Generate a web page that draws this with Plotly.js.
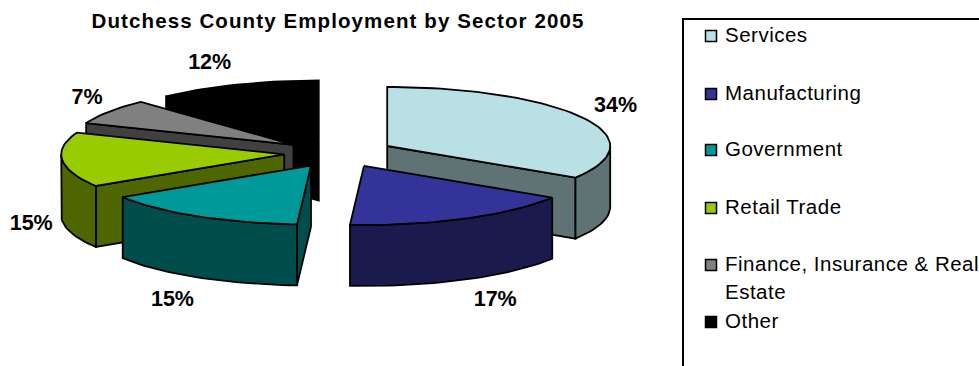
<!DOCTYPE html>
<html>
<head>
<meta charset="utf-8">
<script src="https://cdn.plot.ly/plotly-3.0.1.min.js"></script>
<style>
html,body{margin:0;padding:0;background:#fff;overflow:hidden}
.gtitle{letter-spacing:1.1px}
.scatterlayer .trace:last-child text{letter-spacing:0.5px}
</style>
</head>
<body>
<div id="chart" style="width:979px;height:366px"></div>
<script>
// Employment shares by sector, percent
const categories = ["Services", "Manufacturing", "Government", "Retail Trade", "Finance, Insurance & Real Estate", "Other"];
const shares = [34, 17, 15, 15, 7, 12];
const topColors = ["#B9E1E5", "#333399", "#009999", "#99CC00", "#808080", "#000000"];
const wallColors = ["#5F7375", "#1A1A4D", "#004D4D", "#4D6600", "#404040", "#000000"];
const legendLines = [["Services"], ["Manufacturing"], ["Government"], ["Retail Trade"], ["Finance, Insurance & Real", "Estate"], ["Other"]];

// Pie projection, in the pixel-scaled axes used by this figure
const FONT = "Liberation Sans, Arial, sans-serif";
const cx = 339, cy = 153, rx = 223, ry = 59, depth = 61, explode = 55;
const total = shares.reduce((a, b) => a + b, 0);
const rad = d => d * Math.PI / 180;
const rimX = (ax, a) => ax + rx * Math.sin(rad(a));
const rimY = (ay, a) => ay - ry * Math.cos(rad(a));

// Offsets of each percentage label from the rim at its slice's mid-angle
const labelOffsetX = [33, 30, -25, -31, -22, -27];
const labelOffsetY = [-11, 82, 84, 65, -13, -21];

// Start and end angle (clockwise from twelve o'clock) plus the exploded apex
let running = 0;
const slices = shares.map((v, i) => {
  const a0 = running / total * 360;
  running += v;
  const a1 = running / total * 360;
  const mid = (a0 + a1) / 2;
  return {
    i, a0, a1, mid,
    ax: cx + explode * Math.sin(rad(mid)),
    ay: cy - explode * (ry / rx) * Math.cos(rad(mid))
  };
});

function arc(s, from, to) {
  const xs = [], ys = [];
  const n = Math.max(2, Math.ceil((to - from) / 2));
  for (let k = 0; k <= n; k++) {
    const a = from + (to - from) * k / n;
    xs.push(rimX(s.ax, a));
    ys.push(rimY(s.ay, a));
  }
  return [xs, ys];
}

function polygon(xs, ys, color, name) {
  return {
    type: "scatter", mode: "lines", x: xs, y: ys, fill: "toself", fillcolor: color,
    line: {color: "#000", width: 1.8}, name, showlegend: false, hoverinfo: "name"
  };
}

function radialWall(s, a, color, name) {
  const ex = rimX(s.ax, a), ey = rimY(s.ay, a);
  return polygon([s.ax, ex, ex, s.ax, s.ax], [s.ay, ey, ey + depth, s.ay + depth, s.ay], color, name);
}

// Paint slices back to front
const traces = [];
slices.slice().sort((p, q) => p.ay - q.ay).forEach(s => {
  const name = categories[s.i], wall = wallColors[s.i];
  if (Math.sin(rad(s.a0)) < -1e-6) traces.push(radialWall(s, s.a0, wall, name));
  if (Math.sin(rad(s.a1)) > 1e-6) traces.push(radialWall(s, s.a1, wall, name));
  const from = Math.max(s.a0, 90), to = Math.min(s.a1, 270);
  if (to > from) {
    const [xs, ys] = arc(s, from, to);
    traces.push(polygon(
      xs.concat(xs.slice().reverse(), xs[0]),
      ys.concat(ys.slice().reverse().map(y => y + depth), ys[0]),
      wall, name));
  }
  const [tx, ty] = arc(s, s.a0, s.a1);
  traces.push(polygon([s.ax].concat(tx, s.ax), [s.ay].concat(ty, s.ay), topColors[s.i], name));
});

// Percentage labels
traces.push({
  type: "scatter", mode: "text", showlegend: false, hoverinfo: "skip",
  x: slices.map(s => rimX(s.ax, s.mid) + labelOffsetX[s.i]),
  y: slices.map(s => rimY(s.ay, s.mid) + labelOffsetY[s.i]),
  text: shares.map(v => "<b>" + v + "%</b>"),
  textposition: "middle center",
  textfont: {family: FONT, size: 21.5, color: "#000"}
});

// Legend rows
const legendSwatchX = 711, legendTextX = 725, legendRowY = [36, 94, 150, 208, 265, 322], legendLineGap = 28;
traces.push({
  type: "scatter", mode: "markers", showlegend: false, hoverinfo: "skip",
  x: categories.map(() => legendSwatchX), y: legendRowY,
  marker: {symbol: "square", size: 11, color: topColors, line: {color: "#000", width: 1.5}}
});
const textX = [], textY = [], textS = [];
legendLines.forEach((lines, i) => lines.forEach((t, j) => {
  textX.push(legendTextX); textY.push(legendRowY[i] + 1 + j * legendLineGap); textS.push(t);
}));
traces.push({
  type: "scatter", mode: "text", showlegend: false, hoverinfo: "skip",
  x: textX, y: textY, text: textS, textposition: "middle right",
  textfont: {family: FONT, size: 20.5, color: "#000"}
});

const layout = {
  width: 979, height: 366, margin: {l: 0, r: 0, t: 0, b: 0},
  paper_bgcolor: "#fff", plot_bgcolor: "#fff", showlegend: false,
  font: {family: FONT},
  xaxis: {range: [0, 979], visible: false, fixedrange: true},
  yaxis: {range: [366, 0], visible: false, fixedrange: true},
  title: {
    text: "<b>Dutchess County Employment by Sector 2005</b>",
    x: 338 / 979, xanchor: "center", y: 1 - 21 / 366, yanchor: "middle",
    font: {family: FONT, size: 20.5, color: "#000"}
  },
  shapes: [{
    type: "rect", xref: "x", yref: "y", x0: 683, y0: 19, x1: 1100, y1: 500,
    line: {color: "#000", width: 2}, fillcolor: "rgba(0,0,0,0)", layer: "below"
  }]
};

Plotly.newPlot("chart", traces, layout, {displayModeBar: false});
</script>
</body>
</html>
